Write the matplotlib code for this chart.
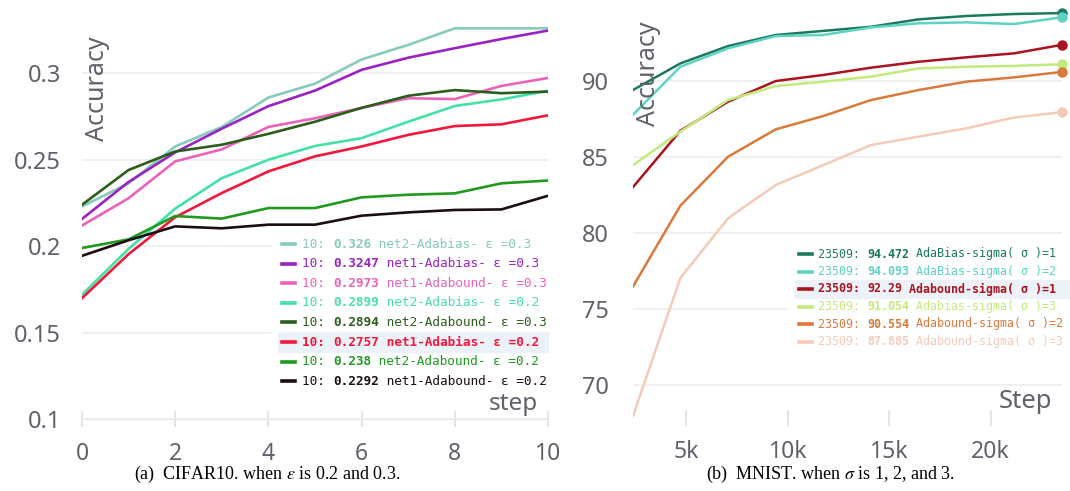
import matplotlib.pyplot as plt
from matplotlib.patches import Rectangle
from matplotlib.lines import Line2D

plt.rcParams['font.family'] = ['Noto Sans', 'DejaVu Sans']

# ---- (a) CIFAR10 data ----
cifar_steps = [0, 1, 2, 3, 4, 5, 6, 7, 8, 9, 10]
net2_adabias_03 = [0.223, 0.2364, 0.2577, 0.269, 0.286, 0.294, 0.308, 0.3164, 0.326, 0.326, 0.326]
net1_adabias_03 = [0.2158, 0.2372, 0.2543, 0.268, 0.281, 0.290, 0.302, 0.309, 0.3145, 0.3198, 0.3247]
net1_adabound_03 = [0.212, 0.2278, 0.2491, 0.256, 0.269, 0.274, 0.280, 0.2856, 0.2851, 0.2927, 0.2973]
net2_adabias_02 = [0.172, 0.1985, 0.2218, 0.2394, 0.250, 0.258, 0.2625, 0.272, 0.2811, 0.2849, 0.2899]
net2_adabound_03 = [0.224, 0.2441, 0.2548, 0.2587, 0.265, 0.272, 0.280, 0.287, 0.2903, 0.2885, 0.2894]
net1_adabias_02 = [0.170, 0.1955, 0.2168, 0.2308, 0.2433, 0.252, 0.2577, 0.2644, 0.2695, 0.2705, 0.2757]
net2_adabound_02 = [0.199, 0.204, 0.2175, 0.216, 0.2221, 0.2221, 0.2283, 0.2298, 0.2306, 0.2364, 0.238]
net1_adabound_02 = [0.1945, 0.2035, 0.2115, 0.2104, 0.2125, 0.2125, 0.2177, 0.2196, 0.221, 0.2213, 0.2292]

cifar_series = [net2_adabias_03, net1_adabias_03, net1_adabound_03, net2_adabias_02,
                net2_adabound_03, net1_adabias_02, net2_adabound_02, net1_adabound_02]
cifar_names = ['net2-Adabias- ε =0.3', 'net1-Adabias- ε =0.3', 'net1-Adabound- ε =0.3',
               'net2-Adabias- ε =0.2', 'net2-Adabound- ε =0.3', 'net1-Adabias- ε =0.2',
               'net2-Adabound- ε =0.2', 'net1-Adabound- ε =0.2']
cifar_final = ['0.326', '0.3247', '0.2973', '0.2899', '0.2894', '0.2757', '0.238', '0.2292']
cifar_colors = ['#86cbbb', '#9a22c2', '#ea62ba', '#45e0a6', '#2c5e1b', '#f2183c', '#1f9a1f', '#1d0c14']
cifar_xticks = [0, 2, 4, 6, 8, 10]
cifar_yticks = [0.1, 0.15, 0.2, 0.25, 0.3]
cifar_yticklabels = ['0.1', '0.15', '0.2', '0.25', '0.3']

# ---- (b) MNIST data ----
mnist_steps = [2351, 4702, 7053, 9404, 11755, 14105, 16456, 18807, 21158, 23509]
adabias_s1 = [89.4, 91.16, 92.3, 93.03, 93.3, 93.57, 94.06, 94.28, 94.41, 94.47]
adabias_s2 = [87.76, 90.94, 92.15, 92.96, 93.03, 93.53, 93.8, 93.86, 93.75, 94.19]
adabound_s1 = [83.0, 86.73, 88.64, 90.0, 90.4, 90.88, 91.27, 91.56, 91.82, 92.38]
adabias_s3 = [84.45, 86.67, 88.75, 89.67, 89.96, 90.29, 90.83, 90.94, 91.0, 91.1]
adabound_s2 = [76.45, 81.8, 85.02, 86.82, 87.7, 88.75, 89.41, 89.96, 90.24, 90.6]
adabound_s3 = [67.9, 77.04, 80.97, 83.16, 84.47, 85.79, 86.34, 86.89, 87.6, 87.95]

mnist_series = [adabias_s1, adabias_s2, adabound_s1, adabias_s3, adabound_s2, adabound_s3]
mnist_names = ['AdaBias-sigma( σ )=1', 'AdaBias-sigma( σ )=2', 'Adabound-sigma( σ )=1',
               'Adabias-sigma( σ )=3', 'Adabound-sigma( σ )=2', 'Adabound-sigma( σ )=3']
mnist_final = ['94.472', '94.093', '92.29', '91.054', '90.554', '87.885']
mnist_colors = ['#1b7a5e', '#5fd3c1', '#a8141f', '#c3ea7c', '#d97a3c', '#f4cbb8']
mnist_xticks = [5000, 10000, 15000, 20000]
mnist_xticklabels = ['5k', '10k', '15k', '20k']
mnist_yticks = [70, 75, 80, 85, 90]

W, H = 1070, 491
gray = '#60616b'


def fx(px):
    return px / W


def fy(py):
    return 1 - py / H


def style(ax, ypad):
    for s in ['top', 'right', 'left']:
        ax.spines[s].set_visible(False)
    ax.spines['bottom'].set_color('#e6e6e6')
    ax.tick_params(axis='x', direction='inout', length=12, width=1.1, color='#dedede',
                   labelsize=16.5, labelcolor=gray, pad=10)
    ax.tick_params(axis='y', length=0, labelsize=17, labelcolor=gray, pad=ypad)
    ax.yaxis.grid(True, color='#ececec', lw=1.1)
    ax.set_axisbelow(True)


def legend(rows, colors, prefix, x_handle, x_text, x_end, y0, dy, fs, hl):
    cw = 0.602 * fs * 100 / 72
    for i, (name, val, c) in enumerate(rows):
        y = y0 + dy * i
        if i == hl:
            fig.add_artist(Rectangle((fx(x_handle - 4), fy(y + dy / 2)), (x_end - x_handle + 4) / W, dy / H,
                                     transform=fig.transFigure, color='#edf1f8', zorder=3))
        fig.add_artist(Line2D([fx(x_handle), fx(x_handle + 13)], [fy(y), fy(y)],
                              transform=fig.transFigure, color=colors[i], lw=2.6, zorder=4))
        w_all = 'bold' if i == hl else 'normal'
        fig.text(fx(x_text), fy(y), prefix, color=colors[i], family='DejaVu Sans Mono',
                 size=fs, va='center', weight=w_all, zorder=4)
        fig.text(fx(x_text + cw * len(prefix)), fy(y), val, color=colors[i],
                 family='DejaVu Sans Mono', size=fs, va='center', weight='bold', zorder=4)
        fig.text(fx(x_text + cw * (len(prefix) + len(val))), fy(y), ' ' + name, color=colors[i],
                 family='DejaVu Sans Mono', size=fs, va='center', weight=w_all, zorder=4)


fig = plt.figure(figsize=(10.7, 4.91), dpi=100)

# left panel
ax1 = fig.add_axes([fx(82), fy(419.3), (548 - 82) / W, (419.3 - 20) / H])
for vals, c in zip(cifar_series, cifar_colors):
    ax1.plot(cifar_steps, vals, color=c, lw=1.9, solid_joinstyle='round')
ax1.set_xlim(0, 10)
ax1.set_ylim(0.1, 0.3308)
ax1.set_xticks(cifar_xticks)
ax1.set_yticks(cifar_yticks)
ax1.set_yticklabels(cifar_yticklabels)
style(ax1, 15)
ax1.add_patch(Rectangle((fx(272), fy(393)), (560 - 272) / W, (393 - 235) / H,
                        transform=fig.transFigure, color='white', zorder=1.5, clip_on=False))

# right panel
ax2 = fig.add_axes([fx(632.7), fy(418), 429 / W, (418 - 2) / H])
for vals, c in zip(mnist_series, mnist_colors):
    ax2.plot(mnist_steps, vals, color=c, lw=1.8, solid_joinstyle='round')
    ax2.plot(mnist_steps[-1], vals[-1], 'o', color=c, ms=6.5, clip_on=False)
ax2.set_xlim(2351, 23509)
ax2.set_ylim(67.83, 95.2)
ax2.set_xticks(mnist_xticks)
ax2.set_xticklabels(mnist_xticklabels)
ax2.set_yticks(mnist_yticks)
style(ax2, 17)
ax2.spines['bottom'].set_visible(False)
ax2.add_patch(Rectangle((fx(787), fy(350)), (W - 787) / W, (350 - 245) / H,
                        transform=fig.transFigure, color='white', zorder=1.5, clip_on=False))

legend(list(zip(cifar_names, cifar_final, cifar_colors)), cifar_colors, '10: ',
       282, 302, 548, 244, 19.6, 9.2, 5)
legend(list(zip(mnist_names, mnist_final, mnist_colors)), mnist_colors, '23509: ',
       799, 818, 1070, 254, 17.5, 8.4, 2)

# axis titles inside plots
fig.text(fx(98), fy(36), 'Accuracy', rotation=90, ha='center', va='top', size=18, color=gray)
fig.text(fx(649), fy(21), 'Accuracy', rotation=90, ha='center', va='top', size=18, color=gray)
fig.text(fx(538), fy(410), 'step', ha='right', va='baseline', size=17.5, color=gray)
fig.text(fx(1052), fy(408), 'Step', ha='right', va='baseline', size=18.5, color=gray)

# captions
fig.text(fx(267), fy(474), r'(a)  CIFAR10. when $\epsilon$ is 0.2 and 0.3.', ha='center',
         va='center', family='Liberation Serif', size=13, math_fontfamily='stix')
fig.text(fx(831), fy(474), r'(b)  MNIST. when $\sigma$ is 1, 2, and 3.', ha='center',
         va='center', family='Liberation Serif', size=13, math_fontfamily='stix')

fig.savefig('out.png', dpi=100)
